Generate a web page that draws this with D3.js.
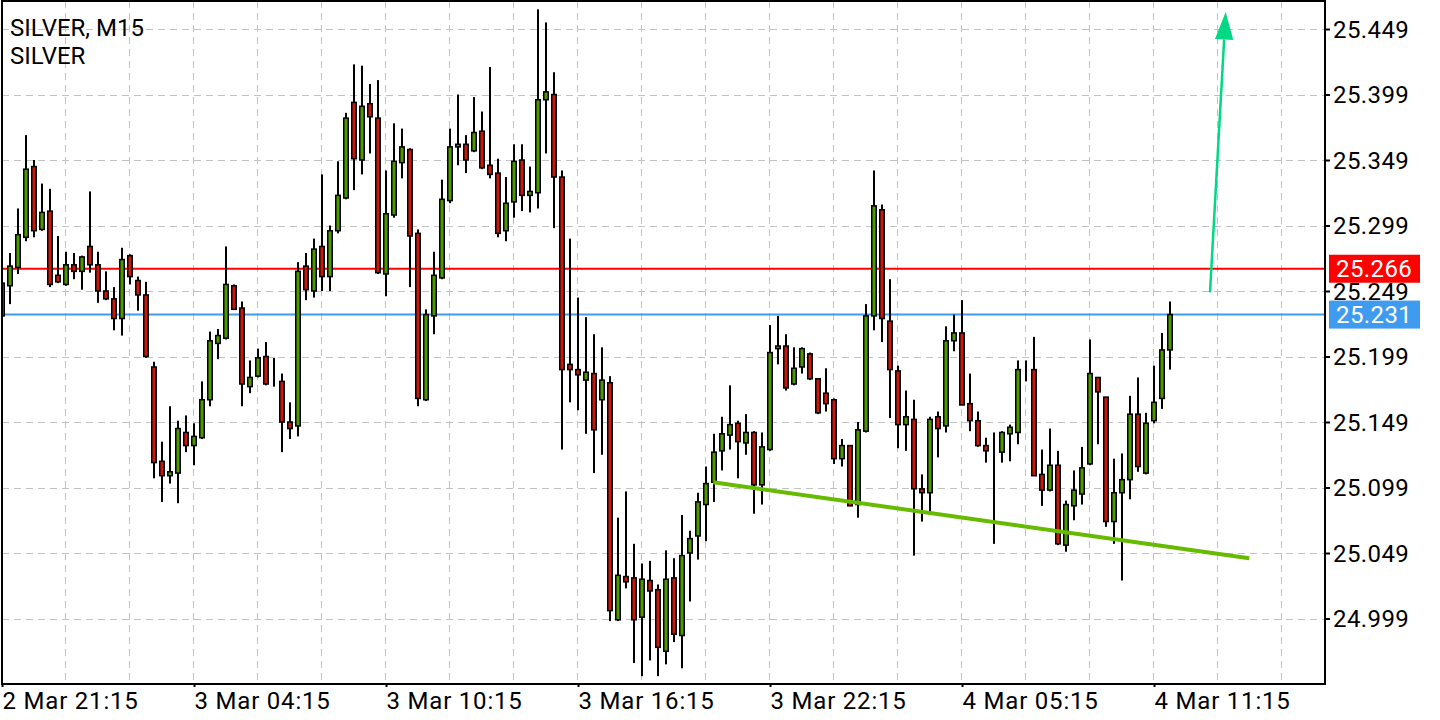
<!DOCTYPE html>
<html><head><meta charset="utf-8">
<script src="https://cdn.jsdelivr.net/npm/d3@7"></script>
<style>body{margin:0;background:#fff}svg{display:block}text{font-family:Roboto,"Noto Sans",sans-serif}</style>
</head><body><svg id="c" width="1440" height="720"></svg>
<script>
// ---- data (SILVER, M15) ----
const open = [
25.230,25.253,25.267,25.290,25.344,25.296,25.310,25.261,25.254,25.269,
25.264,25.283,25.269,25.249,25.243,25.228,25.276,25.257,25.246,25.191,
25.119,25.108,25.110,25.141,25.131,25.137,25.166,25.209,25.213,25.253,
25.236,25.176,25.184,25.199,25.182,25.180,25.149,25.146,25.268,25.249,
25.283,25.260,25.295,25.320,25.393,25.349,25.392,25.381,25.262,25.307,
25.347,25.357,25.293,25.166,25.230,25.259,25.318,25.359,25.361,25.356,
25.371,25.345,25.339,25.295,25.317,25.349,25.322,25.324,25.395,25.399,
25.336,25.193,25.189,25.181,25.186,25.166,25.179,24.998,25.031,25.030,
25.000,25.028,25.021,24.974,25.030,24.986,25.049,25.062,25.086,25.103,
25.127,25.139,25.148,25.133,25.141,25.101,25.128,25.205,25.207,25.178,
25.191,25.201,25.182,25.171,25.166,25.121,25.131,25.086,25.142,25.230,
25.311,25.226,25.188,25.147,25.151,25.098,25.095,25.153,25.146,25.211,
25.217,25.163,25.150,25.131,25.127,25.126,25.140,25.141,25.190,25.189,
25.109,25.097,25.116,25.055,25.085,25.094,25.117,25.183,25.168,25.073,
25.095,25.105,25.155,25.110,25.150,25.167,25.204];
const high = [
25.259,25.278,25.312,25.368,25.349,25.331,25.327,25.291,25.279,25.278,
25.276,25.325,25.279,25.264,25.252,25.282,25.277,25.260,25.256,25.195,
25.134,25.161,25.150,25.154,25.148,25.180,25.218,25.220,25.283,25.254,
25.241,25.196,25.205,25.210,25.198,25.186,25.164,25.271,25.278,25.289,
25.338,25.299,25.348,25.385,25.422,25.421,25.407,25.410,25.341,25.377,
25.373,25.358,25.296,25.235,25.279,25.334,25.373,25.399,25.368,25.397,
25.386,25.420,25.350,25.336,25.361,25.361,25.344,25.464,25.454,25.416,
25.341,25.289,25.244,25.229,25.216,25.206,25.184,25.076,25.096,25.056,
25.041,25.043,25.025,25.051,25.045,25.078,25.066,25.095,25.115,25.140,
25.153,25.177,25.150,25.155,25.142,25.141,25.223,25.230,25.216,25.206,
25.206,25.202,25.182,25.190,25.167,25.136,25.131,25.149,25.239,25.341,
25.315,25.258,25.192,25.173,25.166,25.109,25.153,25.157,25.222,25.231,
25.242,25.186,25.157,25.137,25.141,25.142,25.147,25.196,25.196,25.214,
25.128,25.144,25.127,25.089,25.112,25.130,25.212,25.183,25.168,25.121,
25.125,25.169,25.183,25.156,25.192,25.217,25.241];
const low = [
25.228,25.239,25.262,25.287,25.290,25.295,25.252,25.255,25.253,25.258,
25.250,25.263,25.240,25.242,25.219,25.215,25.254,25.234,25.198,25.106,
25.088,25.102,25.087,25.126,25.116,25.136,25.161,25.197,25.212,25.235,
25.161,25.171,25.183,25.177,25.176,25.126,25.136,25.138,25.242,25.244,
25.249,25.249,25.293,25.319,25.326,25.338,25.354,25.262,25.245,25.305,
25.335,25.252,25.161,25.165,25.216,25.258,25.316,25.345,25.339,25.355,
25.342,25.335,25.290,25.287,25.305,25.310,25.309,25.312,25.354,25.297,
25.128,25.164,25.158,25.140,25.110,25.124,24.997,24.997,25.022,24.965,
24.955,24.967,24.955,24.964,24.981,24.961,25.012,25.044,25.058,25.088,
25.112,25.128,25.106,25.124,25.079,25.086,25.127,25.193,25.173,25.177,
25.186,25.181,25.155,25.157,25.117,25.115,25.085,25.076,25.141,25.219,
25.210,25.152,25.129,25.127,25.047,25.073,25.080,25.122,25.141,25.203,
25.162,25.142,25.130,25.118,25.056,25.118,25.119,25.132,25.180,25.108,
25.085,25.096,25.055,25.050,25.074,25.086,25.116,25.132,25.069,25.056,
25.028,25.090,25.111,25.109,25.148,25.159,25.189];
const close = [
25.255,25.268,25.292,25.342,25.295,25.309,25.254,25.256,25.269,25.264,
25.275,25.269,25.249,25.243,25.228,25.273,25.260,25.246,25.199,25.118,
25.108,25.111,25.144,25.131,25.138,25.166,25.211,25.215,25.254,25.235,
25.178,25.183,25.198,25.178,25.182,25.149,25.144,25.264,25.250,25.281,
25.260,25.295,25.322,25.381,25.350,25.390,25.382,25.263,25.308,25.348,
25.359,25.291,25.167,25.231,25.261,25.319,25.359,25.361,25.349,25.370,
25.343,25.338,25.293,25.316,25.348,25.322,25.325,25.395,25.401,25.336,
25.189,25.189,25.185,25.187,25.143,25.181,25.005,25.032,25.027,24.998,
25.029,25.020,24.977,25.029,24.987,25.047,25.060,25.088,25.102,25.126,
25.140,25.147,25.134,25.141,25.101,25.130,25.202,25.207,25.175,25.190,
25.205,25.182,25.156,25.163,25.121,25.131,25.085,25.143,25.230,25.314,
25.228,25.189,25.147,25.153,25.098,25.095,25.151,25.144,25.211,25.217,
25.162,25.150,25.131,25.127,25.127,25.141,25.145,25.189,25.190,25.108,
25.097,25.116,25.056,25.086,25.097,25.114,25.186,25.172,25.073,25.095,
25.105,25.155,25.115,25.148,25.164,25.204,25.231];

const priceTicks = [24.999,25.049,25.099,25.149,25.199,25.249,25.299,25.349,25.399,25.449];
const timeTickIdx = [0,24,48,72,96,120,144];
const timeLabels = ["2 Mar 21:15","3 Mar 04:15","3 Mar 10:15","3 Mar 16:15","3 Mar 22:15","4 Mar 05:15","4 Mar 11:15"];
const gridIdx = d3.range(8, 161, 8);
const levelPrices = [25.266, 25.231];
const trendIdx = [88.9, 155.9];
const trendPrice = [25.103, 25.045];
const arrowIdx = [151, 152.96];
const arrowPrice = [25.248, 25.462];
const titleLines = ["SILVER, M15", "SILVER"];

// ---- layout / style ----
const L = 2, R = 1325, T = 1, B = 684;
const levelColors = ["#ff0000", "#3f9bf0"];
const upColor = "#4c9a00", downColor = "#c8190b";
const FONT = 24;

const svg = d3.select("#c");
svg.append("rect").attr("width",1440).attr("height",720).attr("fill","#fff");

const x = d3.scaleLinear().domain([0, 1]).range([2, 10]);
const y = d3.scaleLinear().domain([24.949, 25.47114]).range([684, 0]);

svg.append("clipPath").attr("id","plot").append("rect")
  .attr("x",L).attr("y",T).attr("width",R-L).attr("height",B-T);

const g = svg.append("g").attr("clip-path","url(#plot)");

// grid
g.selectAll("line.vg").data(gridIdx).join("line").attr("class","vg")
  .attr("x1",d=>Math.floor(x(d)-0.7)+0.5).attr("x2",d=>Math.floor(x(d)-0.7)+0.5)
  .attr("y1",T).attr("y2",B)
  .attr("stroke","#c3c3c3").attr("stroke-width",1).attr("stroke-dasharray","7,5");
g.selectAll("line.hg").data(priceTicks).join("line").attr("class","hg")
  .attr("y1",d=>Math.round(y(d))+0.5).attr("y2",d=>Math.round(y(d))+0.5)
  .attr("x1",L).attr("x2",R)
  .attr("stroke","#c3c3c3").attr("stroke-width",1).attr("stroke-dasharray","7,5");

// level lines
g.selectAll("line.lv").data(levelPrices).join("line").attr("class","lv")
  .attr("x1",L).attr("x2",R).attr("y1",d=>y(d)).attr("y2",d=>y(d))
  .attr("stroke",(d,i)=>levelColors[i]).attr("stroke-width",2);

// candles
const idx = d3.range(open.length);
g.selectAll("rect.wick").data(idx).join("rect").attr("class","wick")
  .attr("x",i=>x(i)-1).attr("width",2)
  .attr("y",i=>y(high[i])).attr("height",i=>Math.max(1,y(low[i])-y(high[i])))
  .attr("fill","#000");
g.selectAll("rect.body").data(idx).join("rect").attr("class","body")
  .attr("x",i=>x(i)-2.25).attr("width",4.5)
  .attr("y",i=>y(Math.max(open[i],close[i])))
  .attr("height",i=>Math.abs(y(open[i])-y(close[i])))
  .attr("fill",i=>close[i]>=open[i]?upColor:downColor)
  .attr("stroke","#000").attr("stroke-width",1.5);

// trend line
g.append("line")
  .attr("x1",x(trendIdx[0])).attr("y1",y(trendPrice[0]))
  .attr("x2",x(trendIdx[1])).attr("y2",y(trendPrice[1]))
  .attr("stroke","#66bb00").attr("stroke-width",4);

// arrow
const ax0 = x(arrowIdx[0]), ay0 = y(arrowPrice[0]);
const ax1 = x(arrowIdx[1]), ay1 = y(arrowPrice[1]);
const len = Math.hypot(ax1-ax0, ay1-ay0);
const ux = (ax1-ax0)/len, uy = (ay1-ay0)/len;
const headL = 27.5, headW = 9.2;
const bx = ax1-ux*headL, by = ay1-uy*headL;
g.append("line").attr("x1",ax0).attr("y1",ay0).attr("x2",bx).attr("y2",by)
  .attr("stroke","#00d884").attr("stroke-width",2.5);
g.append("path")
  .attr("d",`M${ax1},${ay1}L${bx-uy*headW},${by+ux*headW}L${bx+uy*headW},${by-ux*headW}Z`)
  .attr("fill","#00d884");

// frame
svg.append("rect").attr("x",L).attr("y",T).attr("width",R-L).attr("height",B-T)
  .attr("fill","none").attr("stroke","#000").attr("stroke-width",2);

// right price axis
const yAxis = d3.axisRight(y).tickValues(priceTicks).tickFormat(d3.format(".3f"))
  .tickSize(5).tickPadding(3);
const ya = svg.append("g").attr("transform",`translate(${R},0)`).call(yAxis);
ya.select(".domain").remove();
ya.selectAll(".tick line").attr("stroke","#000").attr("stroke-width",2);
ya.selectAll(".tick text").attr("font-size",FONT).attr("fill","#000")
  .attr("font-family","Roboto").attr("dy","0.35em").attr("letter-spacing","0.4px");

// bottom time axis
const xAxis = d3.axisBottom(x).tickValues(timeTickIdx).tickFormat((d,i)=>timeLabels[i])
  .tickSize(3);
const xa = svg.append("g").attr("transform",`translate(0,${B})`).call(xAxis);
xa.select(".domain").remove();
xa.selectAll(".tick line").attr("stroke","#000").attr("stroke-width",2);
xa.selectAll(".tick text").attr("font-size",FONT).attr("fill","#000")
  .attr("font-family","Roboto").attr("text-anchor","start")
  .attr("letter-spacing","0.8px")
  .attr("x",0).attr("y",25).attr("dy",0);

// title
svg.selectAll("text.title").data(titleLines).join("text").attr("class","title")
  .attr("x",10).attr("y",(d,i)=>36+i*28).attr("font-size",FONT).attr("fill","#000").text(d=>d);

// price tags
const tags = svg.selectAll("g.tag").data(levelPrices).join("g").attr("class","tag");
tags.append("rect").attr("x",R+4).attr("width",91)
  .attr("y",d=>y(d)-14).attr("height",28).attr("fill",(d,i)=>levelColors[i]);
tags.append("text").attr("x",R+11).attr("y",d=>y(d)).attr("dy","0.35em")
  .attr("font-size",FONT).attr("fill","#fff").attr("letter-spacing","0.4px")
  .text(d=>d3.format(".3f")(d));
</script></body></html>
